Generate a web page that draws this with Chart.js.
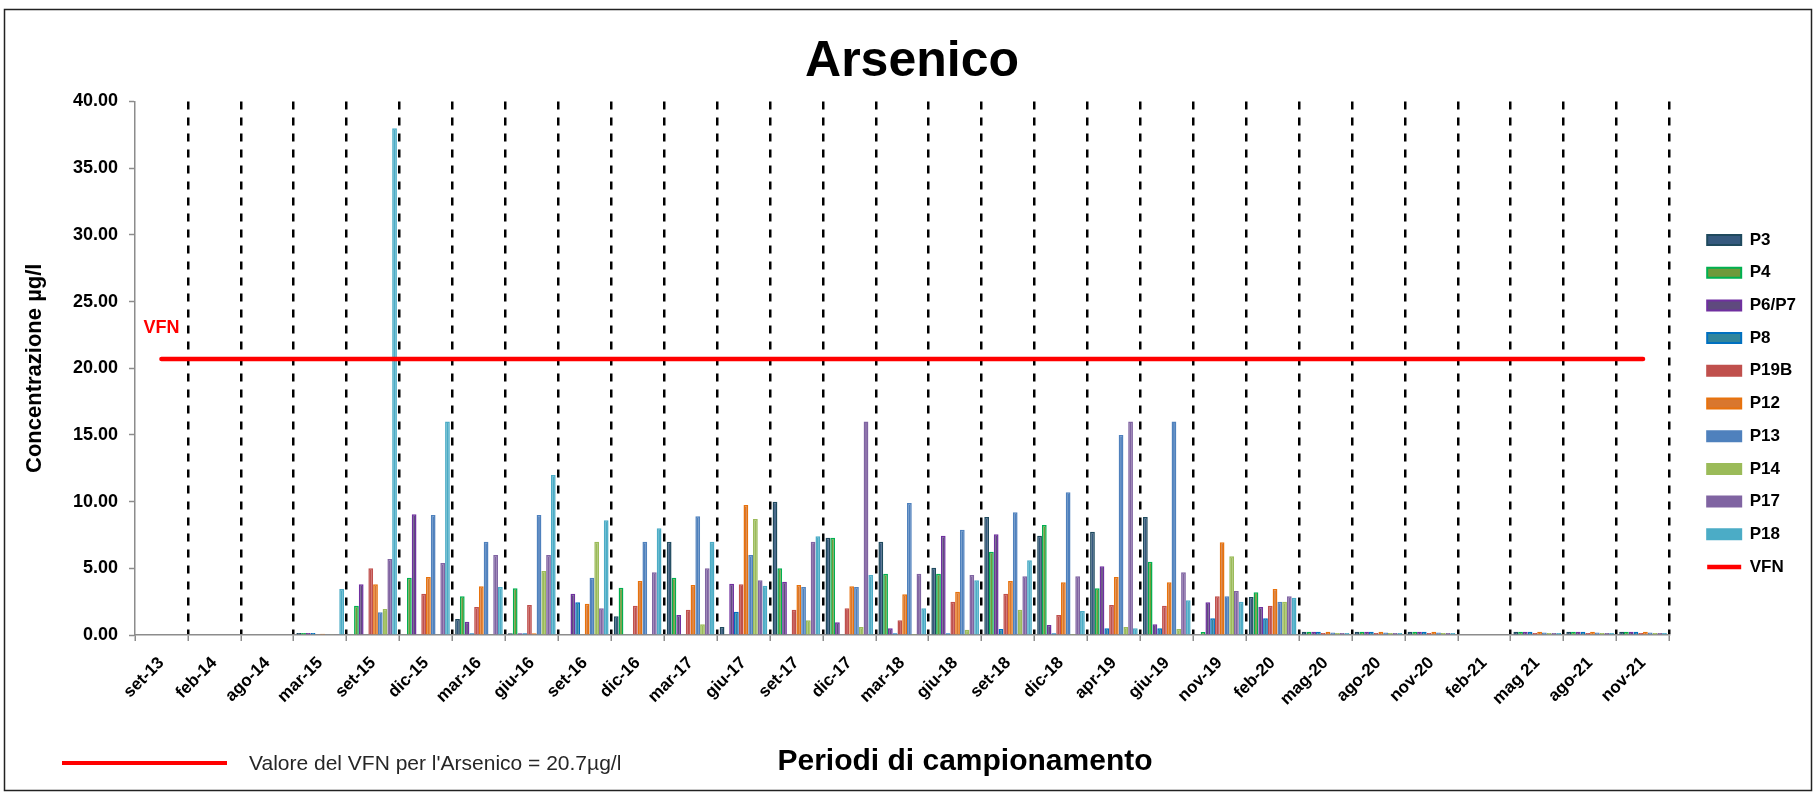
<!DOCTYPE html>
<html>
<head>
<meta charset="utf-8">
<script src="https://cdn.jsdelivr.net/npm/chart.js@4.4.1/dist/chart.umd.min.js"></script>
<style>
  body { margin: 0; background: #fff; }
  #wrap { position: relative; width: 1820px; height: 795px; }
  .note { position: absolute; font-family: "Liberation Sans", Arial, sans-serif; white-space: nowrap; }
</style>
</head>
<body>
<div id="wrap">
  <canvas id="chart" width="1820" height="795"></canvas>
  <div style="position:absolute; left:62px; top:761px; width:165px; height:4px; background:#ff0000;"></div>
  <div class="note" style="left:249px; top:750px; font-size:21px; line-height:26px; color:#262626;">Valore del VFN per l'Arsenico = 20.7µg/l</div>
  <div class="note" style="left:965px; top:742px; transform:translateX(-50%); font-size:30px; line-height:36px; font-weight:bold; color:#000;">Periodi di campionamento</div>
</div>
<script>
const categorie = ["set-13", "feb-14", "ago-14", "mar-15", "set-15", "dic-15", "mar-16", "giu-16",
  "set-16", "dic-16", "mar-17", "giu-17", "set-17", "dic-17", "mar-18", "giu-18", "set-18",
  "dic-18", "apr-19", "giu-19", "nov-19", "feb-20", "mag-20", "ago-20", "nov-20", "feb-21",
  "mag 21", "ago-21", "nov-21"];

const nomiSerie = ["P3", "P4", "P6/P7", "P8", "P19B", "P12", "P13", "P14", "P17", "P18"];

// valori in µg/l, null = nessun campione
const P3 = [null, null, null, 0.15, null, null, 1.2, 0.13, null, 1.4, 7.0, 0.6, 10.0, 7.3, 7.0,
  5.05, 8.85, 7.45, 7.75, 8.85, null, 2.85, 0.25, 0.25, 0.25, null, 0.25, 0.25, 0.25];
const P4 = [null, null, null, 0.15, 2.2, 4.3, 2.9, 3.5, null, 3.55, 4.3, null, 5.0, 7.3, 4.6,
  4.6, 6.25, 8.25, 3.5, 5.5, 0.23, 3.2, 0.25, 0.25, 0.25, null, 0.25, 0.25, 0.25];
const P6_P7 = [null, null, null, 0.15, 3.8, 9.05, 1.0, 0.13, 3.1, null, 1.5, 3.85, 4.0, 0.95, 0.5,
  7.45, 7.55, 0.75, 5.15, 0.8, 2.45, 2.1, 0.25, 0.25, 0.25, null, 0.25, 0.25, 0.25];
const P8 = [null, null, null, 0.15, null, null, 0.13, 0.13, 2.45, null, null, 1.75, null, null, 0.13,
  0.13, 0.45, 0.13, 0.5, 0.5, 1.25, 1.25, 0.25, 0.25, 0.25, null, 0.25, 0.25, 0.25];
const P19B = [null, null, null, 0.05, 5.0, 3.1, 2.1, 2.25, null, 2.2, 1.9, 3.8, 1.9, 2.0, 1.1,
  2.5, 3.1, 1.5, 2.25, 2.2, 2.9, 2.2, 0.15, 0.15, 0.15, null, 0.15, 0.15, 0.15];
const P12 = [null, null, null, 0.1, 3.8, 4.35, 3.65, 0.13, 2.35, 4.05, 3.75, 9.75, 3.75, 3.65, 3.05,
  3.25, 4.05, 3.95, 4.35, 3.95, 6.95, 3.45, 0.25, 0.25, 0.25, null, 0.25, 0.25, 0.25];
const P13 = [null, null, null, 0.05, 1.7, 9.0, 7.0, 9.0, 4.3, 7.0, 8.9, 6.0, 3.6, 3.6, 9.9,
  7.9, 9.2, 10.7, 15.0, 16.0, 2.9, 2.5, 0.18, 0.18, 0.18, null, 0.18, 0.18, 0.18];
const P14 = [null, null, null, 0.05, 1.95, null, 0.05, 4.8, 7.0, null, 0.8, 8.7, 1.1, 0.6, 0.08,
  0.4, 1.9, 0.08, 0.6, 0.45, 5.9, 2.5, 0.15, 0.15, 0.15, null, 0.15, 0.15, 0.15];
const P17 = [null, null, null, 0.05, 5.7, 5.4, 6.0, 6.0, 2.0, 4.7, 5.0, 4.1, 7.0, 16.0, 4.6,
  4.5, 4.4, 4.4, 16.0, 4.7, 3.3, 2.9, 0.15, 0.15, 0.15, null, 0.15, 0.15, 0.15];
const P18 = [null, null, null, 3.45, 38.0, 16.0, 3.6, 12.0, 8.6, 8.0, 7.0, 3.7, 7.4, 4.5, 2.0,
  4.1, 5.6, 1.8, 0.5, 2.6, 2.5, 2.8, 0.15, 0.15, 0.15, null, 0.15, 0.15, 0.15];

const valoriSerie = [P3, P4, P6_P7, P8, P19B, P12, P13, P14, P17, P18];
const VFN = 20.7;
const yMin = 0, yMax = 40, yPasso = 5;

const riempimento = ["#35597e", "#6f9a3b", "#5f4a7e", "#31859c", "#c0504d",
  "#d9772e", "#4f81bd", "#9bbb59", "#8064a2", "#4bacc6"];
const bordi = ["#1f4a5e", "#00b050", "#7030a0", "#0070c0", "#c0504d",
  "#e8720c", "#4f81bd", "#9bbb59", "#8064a2", "#4bacc6"];

const FONT = "'Liberation Sans', Arial, sans-serif";
Chart.defaults.font.family = FONT;
Chart.defaults.color = "#000";

const datasets = nomiSerie.map((nome, i) => ({
  type: "bar",
  label: nome,
  data: valoriSerie[i],
  backgroundColor: riempimento[i],
  borderColor: bordi[i],
  borderWidth: 1.5,
  categoryPercentage: 0.9,
  barPercentage: 1.0,
  order: 1
}));
datasets.push({
  type: "line",
  label: "VFN",
  data: categorie.map(() => VFN),
  borderColor: "#ff0000",
  backgroundColor: "#ff0000",
  borderWidth: 4.5,
  borderCapStyle: "round",
  pointRadius: 0,
  order: 0
});

const cornice = {
  id: "cornice",
  beforeDraw(chart) {
    const c = chart.ctx;
    c.save();
    c.fillStyle = "#fff";
    c.fillRect(0, 0, chart.width, chart.height);
    c.strokeStyle = "#222";
    c.lineWidth = 1.5;
    c.strokeRect(4.5, 9.5, 1807, 781);
    c.restore();
  }
};

const etichettaVfn = {
  id: "etichettaVfn",
  afterDatasetsDraw(chart) {
    const c = chart.ctx;
    const x = chart.scales.x.getPixelForValue(0);
    const y = chart.scales.y.getPixelForValue(VFN);
    c.save();
    c.font = "bold 18px " + FONT;
    c.fillStyle = "#ff0000";
    c.textAlign = "center";
    c.textBaseline = "middle";
    c.fillText("VFN", x, y - 31);
    c.restore();
  }
};

new Chart(document.getElementById("chart"), {
  data: { labels: categorie, datasets: datasets },
  plugins: [cornice, etichettaVfn],
  options: {
    responsive: false,
    animation: false,
    devicePixelRatio: 1,
    layout: { padding: { top: 12, left: 18, right: 14, bottom: 0 } },
    plugins: {
      title: {
        display: true,
        text: "Arsenico",
        font: { size: 50, weight: "bold", family: FONT },
        color: "#000",
        padding: { top: 20, bottom: 9.5 }
      },
      legend: {
        position: "right",
        labels: {
          font: { size: 17, weight: "bold", family: FONT },
          color: "#000",
          usePointStyle: true,
          pointStyleWidth: 34,
          boxWidth: 34,
          boxHeight: 10,
          padding: 15.7,
          sort: (a, b) => a.datasetIndex - b.datasetIndex,
          generateLabels(chart) {
            const items = Chart.defaults.plugins.legend.labels.generateLabels(chart);
            items.forEach(it => {
              const ds = chart.data.datasets[it.datasetIndex];
              if (ds.type === "line") {
                it.pointStyle = "line";
                it.lineWidth = 4.5;
                it.strokeStyle = ds.borderColor;
              } else {
                it.pointStyle = "rect";
                it.lineWidth = 2;
              }
            });
            return items;
          }
        }
      },
      tooltip: { enabled: false }
    },
    scales: {
      x: {
        offset: true,
        grid: {
          offset: true,
          drawOnChartArea: true,
          color: ctx => ctx.index === 0 ? "rgba(0,0,0,0)" : "#000",
          lineWidth: 2.5,
          tickColor: "#8c8c8c",
          tickWidth: 1.5,
          tickLength: 6,
          tickBorderDash: [1, 0]
        },
        border: { color: "#8c8c8c", width: 1.5, dash: [8, 8] },
        ticks: {
          font: { size: 17, weight: "bold", family: FONT },
          color: "#000",
          minRotation: 45,
          maxRotation: 45,
          padding: 12,
          autoSkip: false
        },
        afterFit(s) { s.height = 160; }
      },
      y: {
        min: yMin,
        max: yMax,
        ticks: {
          stepSize: yPasso,
          font: { size: 18, weight: "bold", family: FONT },
          color: "#000",
          padding: 11,
          callback: v => v.toFixed(2)
        },
        grid: { drawOnChartArea: false, tickLength: 6, tickColor: "#8c8c8c", tickWidth: 1.5 },
        border: { color: "#8c8c8c", width: 1.5 },
        title: {
          display: true,
          text: "Concentrazione µg/l",
          font: { size: 22, weight: "bold", family: FONT },
          color: "#000"
        },
        afterFit(s) { s.width = 117; }
      },
      destra: {
        type: "linear",
        position: "right",
        display: true,
        grid: { display: false },
        ticks: { display: false },
        border: { display: false },
        afterFit(s) { s.width = 22; }
      }
    }
  }
});
</script>
</body>
</html>
